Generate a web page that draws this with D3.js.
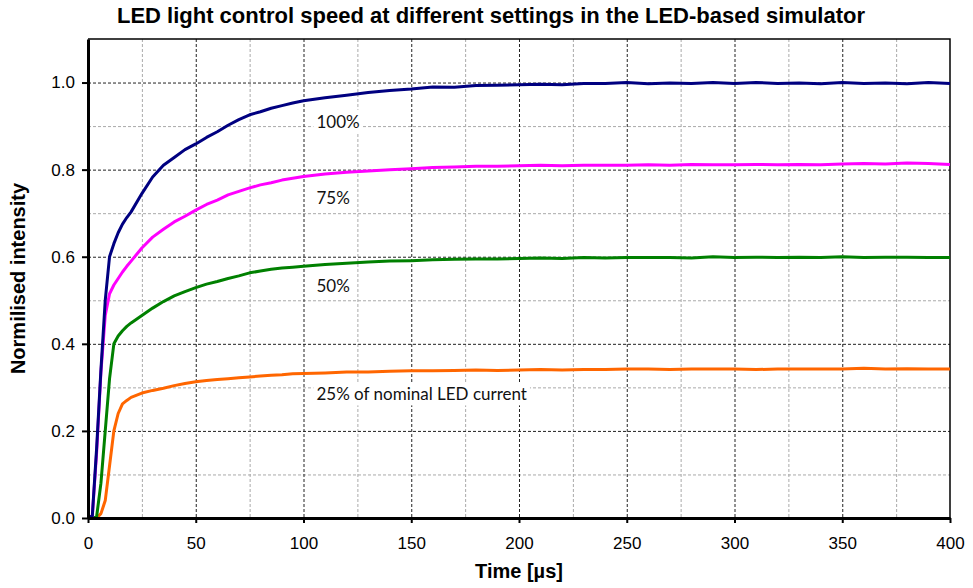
<!doctype html>
<html lang='en'>
<head>
<meta charset='UTF-8'>
<title>LED light control speed</title>
<style>
  body { margin: 0; background: #fff; }
  .tick text { font-family: 'Liberation Sans', Arial, sans-serif; font-size: 17px; fill: #000; }
  .axis path { stroke: #000; }
  .axis line { stroke: #000; stroke-width: 2px; }
  .grid-major line { stroke: #222; stroke-dasharray: 3,2; stroke-width: 1px; }
  .grid-minor line { stroke: #aaa; stroke-dasharray: 3,2; stroke-width: 1px; }
  .series { fill: none; stroke-width: 3px; stroke-linejoin: round; }
  .label { font-family: Lato, 'Open Sans', sans-serif; font-size: 17px; fill: #111; }
  .title { font-family: 'Liberation Sans', Arial, sans-serif; font-weight: bold; }
</style>
</head>
<body>
<script src='https://cdn.jsdelivr.net/npm/d3@7'></script>
<script>
  const time = [0, 2, 4, 6, 8, 10, 12, 14, 16, 18, 20,
    25, 30, 35, 40, 45, 50, 55, 60, 65, 70, 75, 80, 85, 90, 95, 100,
    110, 120, 130, 140, 150, 160, 170, 180, 190, 200, 210, 220, 230, 240, 250,
    260, 270, 280, 290, 300, 310, 320, 330, 340, 350, 360, 370, 380, 390, 400]

  const led100 = [0, 0.005, 0.16, 0.34, 0.5, 0.6, 0.63, 0.655, 0.675, 0.69, 0.703,
    0.745, 0.783, 0.81, 0.828, 0.846, 0.859, 0.874, 0.887, 0.902, 0.915, 0.926, 0.933, 0.941, 0.947, 0.953, 0.958,
    0.965, 0.971, 0.977, 0.982, 0.985, 0.99, 0.989, 0.993, 0.994, 0.995, 0.996, 0.995, 0.998, 0.998, 1.0,
    0.997, 0.999, 0.998, 1.0, 0.998, 1.0, 0.998, 0.999, 0.997, 1.0, 0.998, 0.999, 0.997, 1.0, 0.998]

  const led75 = [0, 0.005, 0.15, 0.335, 0.465, 0.515, 0.535, 0.55, 0.565, 0.578, 0.59,
    0.62, 0.645, 0.663, 0.68, 0.693, 0.707, 0.72, 0.73, 0.742, 0.75, 0.758, 0.765, 0.77, 0.776, 0.78, 0.784,
    0.79, 0.794, 0.797, 0.8, 0.802, 0.805, 0.806, 0.808, 0.808, 0.809, 0.81, 0.809, 0.81, 0.81, 0.81,
    0.811, 0.81, 0.812, 0.811, 0.811, 0.812, 0.811, 0.812, 0.811, 0.813, 0.814, 0.813, 0.815, 0.814, 0.812]

  const led50 = [0, 0, 0.003, 0.08, 0.2, 0.32, 0.4, 0.418, 0.43, 0.44, 0.448,
    0.465, 0.482, 0.497, 0.51, 0.52, 0.529, 0.537, 0.543, 0.55, 0.556, 0.563, 0.567, 0.571, 0.574, 0.576, 0.578,
    0.582, 0.585, 0.588, 0.59, 0.591, 0.593, 0.594, 0.595, 0.595, 0.596, 0.597, 0.596, 0.598, 0.597, 0.598,
    0.598, 0.598, 0.597, 0.6, 0.598, 0.599, 0.598, 0.599, 0.598, 0.6, 0.598, 0.599, 0.599, 0.598, 0.598]

  const led25 = [0, 0, 0, 0.01, 0.04, 0.12, 0.2, 0.24, 0.262, 0.27, 0.277,
    0.287, 0.293, 0.298, 0.304, 0.309, 0.313, 0.316, 0.318, 0.32, 0.322, 0.324, 0.326, 0.328, 0.329, 0.331, 0.332,
    0.333, 0.335, 0.335, 0.337, 0.338, 0.338, 0.339, 0.34, 0.339, 0.34, 0.341, 0.34, 0.341, 0.341, 0.342,
    0.342, 0.341, 0.342, 0.342, 0.342, 0.341, 0.342, 0.342, 0.342, 0.342, 0.344, 0.342, 0.343, 0.342, 0.342]

  const seriesNames = ['100%', '75%', '50%', '25% of nominal LED current']
  const seriesColors = ['#000080', '#ff00ff', '#008000', '#ff6600']
  const labelAt = [[106, 0.906], [106, 0.731], [106, 0.529], [106, 0.28]]

  const xTicks = [0, 50, 100, 150, 200, 250, 300, 350, 400]
  const yTicks = [0, 0.2, 0.4, 0.6, 0.8, 1.0]

  const margin = {top: 39, right: 23, bottom: 70, left: 88}
  const W = 973, H = 588
  const width = W - margin.left - margin.right
  const height = H - margin.top - margin.bottom

  const x = d3.scaleLinear().domain([0, 400]).range([0, width])
  const y = d3.scaleLinear().domain([0, 1.1]).range([height, 0])

  const svg = d3.select('body').append('svg')
    .attr('width', W).attr('height', H)

  svg.append('text').attr('class', 'title')
    .attr('x', 491).attr('y', 23)
    .attr('text-anchor', 'middle')
    .style('font-size', '22px')
    .text('LED light control speed at different settings in the LED-based simulator')

  const g = svg.append('g').attr('transform', `translate(${margin.left},${margin.top})`)

  // minor grid
  g.append('g').attr('class', 'grid-minor')
    .call(d3.axisBottom(x).tickValues(d3.range(25, 400, 50)).tickSize(height).tickFormat(''))
    .call(s => s.select('.domain').remove())
  g.append('g').attr('class', 'grid-minor')
    .call(d3.axisLeft(y).tickValues([0.1, 0.3, 0.5, 0.7, 0.9]).tickSize(-width).tickFormat(''))
    .call(s => s.select('.domain').remove())
  // major grid
  g.append('g').attr('class', 'grid-major')
    .call(d3.axisBottom(x).tickValues(xTicks.slice(1, -1)).tickSize(height).tickFormat(''))
    .call(s => s.select('.domain').remove())
  g.append('g').attr('class', 'grid-major')
    .call(d3.axisLeft(y).tickValues(yTicks.slice(1)).tickSize(-width).tickFormat(''))
    .call(s => s.select('.domain').remove())

  // frame top/right
  g.append('path')
    .attr('d', `M0,0H${width}V${height}`)
    .attr('fill', 'none').attr('stroke', '#000').attr('stroke-width', 1.5)

  // labels with white boxes
  seriesNames.forEach((name, i) => {
    const t = g.append('text').attr('class', 'label')
      .attr('x', x(labelAt[i][0])).attr('y', y(labelAt[i][1]))
      .attr('dominant-baseline', 'middle')
      .text(name)
    const b = t.node().getBBox()
    g.insert('rect', () => t.node())
      .attr('x', b.x - 3).attr('y', b.y - 1)
      .attr('width', b.width + 6).attr('height', b.height + 2)
      .attr('fill', '#fff')
  })

  const line = d3.line()
    .x((d, i) => x(time[i]))
    .y(d => y(d))

  const allSeries = [led25, led50, led75, led100]
  const allColors = seriesColors.slice().reverse()
  allSeries.forEach((s, i) => {
    g.append('path').datum(s)
      .attr('class', 'series')
      .attr('stroke', allColors[i])
      .attr('d', line)
  })

  const xAxis = g.append('g').attr('class', 'axis')
    .attr('transform', `translate(0,${height})`)
    .call(d3.axisBottom(x).tickValues(xTicks).tickSizeInner(5).tickSizeOuter(0).tickPadding(14))
  xAxis.select('.domain').attr('stroke-width', 3)

  const yAxis = g.append('g').attr('class', 'axis')
    .call(d3.axisLeft(y).tickValues(yTicks).tickFormat(d3.format('.1f')).tickSizeInner(6).tickSizeOuter(0).tickPadding(7))
  yAxis.select('.domain').attr('stroke-width', 3)

  svg.append('text').attr('class', 'title')
    .attr('x', margin.left + width / 2).attr('y', 578)
    .attr('text-anchor', 'middle')
    .style('font-size', '20px')
    .text('Time [µs]')

  svg.append('text').attr('class', 'title')
    .attr('transform', `translate(25,${margin.top + y(0.55)}) rotate(-90)`)
    .attr('text-anchor', 'middle')
    .style('font-size', '20px')
    .text('Normilised intensity')
</script>
</body>
</html>
